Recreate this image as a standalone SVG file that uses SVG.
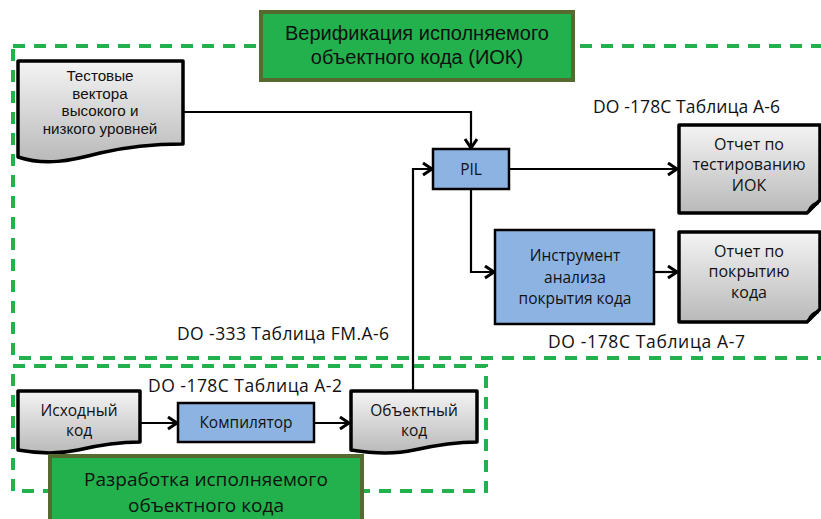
<svg xmlns="http://www.w3.org/2000/svg" width="821" height="519" viewBox="0 0 821 519">
<defs>
<linearGradient id="g" x1="0" y1="0" x2="0" y2="1">
<stop offset="0" stop-color="#f4f4f4"/>
<stop offset="1" stop-color="#b9b9b9"/>
</linearGradient>
<marker id="a" markerUnits="userSpaceOnUse" markerWidth="14" markerHeight="16" refX="11" refY="7" orient="auto">
<path d="M2,1 L11,7 L2,13" fill="none" stroke="#000" stroke-width="3"/>
</marker>
</defs>
<style>
text{font-family:"Open Sans","Liberation Sans",sans-serif;fill:#111;text-anchor:middle}
.t{font-size:15.5px}
.tv{font-family:"Liberation Sans",Arial,sans-serif;font-size:15.2px}
.r{font-size:16px}
.lbl{font-size:17.5px;text-anchor:start}
.big{font-size:19px}
.bigl{font-family:"Liberation Sans",Arial,sans-serif;font-size:20px}
.doc{fill:url(#g);stroke:#000;stroke-width:3.5;stroke-linejoin:round}
.proc{fill:#8db3e2;stroke:#000;stroke-width:2.5}
.grn{fill:#22b14c;stroke:#566a30;stroke-width:4}
.dash{fill:none;stroke:#22b14c;stroke-width:4;stroke-dasharray:12 9}
.c{fill:none;stroke:#000;stroke-width:2.2}
</style>
<g id="frames">
<rect class="dash" x="13" y="46" width="840" height="312"/>
<rect class="dash" x="13" y="366" width="473" height="125"/>
</g>
<g id="verif-title">
<rect class="grn" x="261" y="12" width="312" height="68"/>
<text class="bigl"><tspan x="417" y="40">Верификация исполняемого</tspan><tspan x="417" y="64">объектного кода (ИОК)</tspan></text>
</g>
<g id="connectors">
<polyline class="c" points="183,112 471,112 471,148" marker-end="url(#a)"/>
<polyline class="c" points="509,169 677,169" marker-end="url(#a)"/>
<polyline class="c" points="471,189 471,272 494,272" marker-end="url(#a)"/>
<polyline class="c" points="654,272 677,272" marker-end="url(#a)"/>
<polyline class="c" points="413,390 413,169 432,169" marker-end="url(#a)"/>
<polyline class="c" points="140,423 177,423" marker-end="url(#a)"/>
<polyline class="c" points="314,423 349,423" marker-end="url(#a)"/>
</g>
<g id="test-vectors">
<path class="doc" d="M18,61 H183 V144 C155,144 130,146 100,153 C70,161 45,166 18,157 Z"/>
<text class="tv"><tspan x="100" y="81">Тестовые</tspan><tspan x="100" y="98.5">вектора</tspan><tspan x="100" y="116">высокого и</tspan><tspan x="100" y="133.5">низкого уровней</tspan></text>
</g>
<g id="pil">
<rect class="proc" x="433" y="149" width="76" height="40"/>
<text class="t" x="471" y="175">PIL</text>
</g>
<g id="report-test">
<path class="doc" d="M679,125 H820 V200 L807,213 H679 Z"/>
<path d="M807,213 C808,207 812,202 819,201 L819,204 C815,206 812,209 810,212 Z" fill="#000"/>
<text class="r"><tspan x="749" y="150">Отчет по</tspan><tspan x="749" y="170">тестированию</tspan><tspan x="749" y="191">ИОК</tspan></text>
</g>
<g id="coverage-tool">
<rect class="proc" x="495" y="230" width="159" height="94"/>
<text class="t"><tspan x="575" y="261">Инструмент</tspan><tspan x="575" y="283">анализа</tspan><tspan x="575" y="304">покрытия кода</tspan></text>
</g>
<g id="report-cov">
<path class="doc" d="M679,232 H820 V309 L807,322 H679 Z"/>
<path d="M807,322 C808,316 812,311 819,310 L819,313 C815,315 812,318 810,321 Z" fill="#000"/>
<text class="r"><tspan x="749" y="257">Отчет по</tspan><tspan x="749" y="277">покрытию</tspan><tspan x="749" y="298">кода</tspan></text>
</g>
<g id="labels">
<text class="lbl" x="593" y="113" textLength="187" lengthAdjust="spacing">DO -178C Таблица А-6</text>
<text class="lbl" x="548" y="348" textLength="197" lengthAdjust="spacing">DO -178C  Таблица  А-7</text>
<text class="lbl" x="177" y="340" textLength="212" lengthAdjust="spacing">DO -333 Таблица  FM.A-6</text>
<text class="lbl" x="148" y="392" textLength="194" lengthAdjust="spacing">DO -178C  Таблица  А-2</text>
</g>
<g id="source">
<path class="doc" d="M18,391 H140 V442 C115,442 95,446 78,450 C55,455 35,453 18,450 Z"/>
<text class="t"><tspan x="79" y="416">Исходный</tspan><tspan x="79" y="436">код</tspan></text>
</g>
<g id="compiler">
<rect class="proc" x="178" y="403" width="136" height="39"/>
<text class="t" x="246" y="428">Компилятор</text>
</g>
<g id="object">
<path class="doc" d="M351,391 H477 V442 C452,442 432,446 414,450 C392,455 370,453 351,450 Z"/>
<text class="t"><tspan x="414" y="416">Объектный</tspan><tspan x="414" y="436">код</tspan></text>
</g>
<g id="dev-title">
<rect class="grn" x="50" y="456" width="312" height="72"/>
<text class="big"><tspan x="206" y="486">Разработка исполняемого</tspan><tspan x="206" y="512">объектного кода</tspan></text>
</g>
</svg>
